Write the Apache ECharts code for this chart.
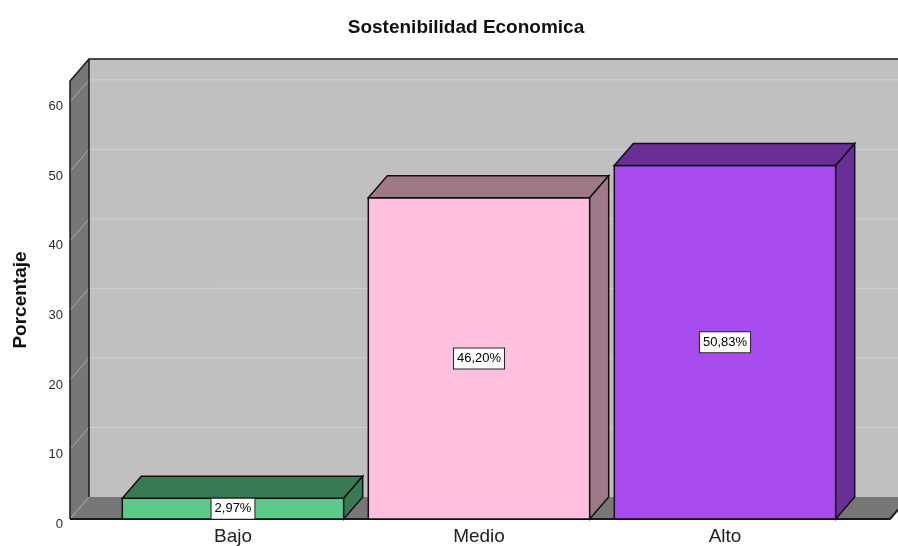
<!DOCTYPE html>
<html>
<head>
<meta charset="utf-8">
<script src="https://cdn.jsdelivr.net/npm/echarts@6/dist/echarts.min.js"></script>
<style>
html,body{margin:0;padding:0;background:#fff;}
#chart{width:898px;height:546px;}
</style>
</head>
<body>
<div id="chart"></div>
<script>
// ---- data ----
const categories = ['Bajo', 'Medio', 'Alto'];
const percentages = [2.97, 46.20, 50.83];
const yTicks = [0, 10, 20, 30, 40, 50, 60];
const yMax = 63;

// ---- styles ----
const FONT = 'Liberation Sans, Arial, Helvetica, sans-serif';
const frontColors = ['#5dca8b', '#ffc0e0', '#a84cf0'];
const darkColors = ['#387a52', '#a07989', '#6a2e97'];
const DX = 19, DY = -22;          // depth offset of the 3D effect
const LEFT_EXT = 40, RIGHT_EXT = 42;

function fmt(v) { return v.toFixed(2).replace('.', ',') + '%'; }

function renderFrame(params, api) {
  const cs = params.coordSys;
  const X0 = cs.x - LEFT_EXT;
  const XR = cs.x + cs.width + RIGHT_EXT;
  const Yb = api.coord([0, 0])[1];
  const Yt = api.coord([0, yMax])[1];
  const children = [];
  children.push({type: 'rect', shape: {x: X0 + DX, y: Yt + DY, width: XR - X0 + 20, height: Yb - Yt},
    style: {fill: '#c0c0c0'}});
  children.push({type: 'polygon', shape: {points: [[X0, Yb], [X0, Yt], [X0 + DX, Yt + DY], [X0 + DX, Yb + DY]]},
    style: {fill: '#777777'}});
  children.push({type: 'polygon', shape: {points: [[X0, Yb], [XR, Yb], [XR + DX, Yb + DY], [X0 + DX, Yb + DY]]},
    style: {fill: '#777777'}});
  yTicks.forEach(function (t) {
    const y = api.coord([0, t])[1];
    if (t > 0) {
      children.push({type: 'line', shape: {x1: X0 + DX, y1: y + DY, x2: XR + DX + 20, y2: y + DY},
        style: {stroke: '#d0d0d0', lineWidth: 1}});
    }
    children.push({type: 'line', shape: {x1: X0, y1: y, x2: X0 + DX, y2: y + DY},
      style: {stroke: '#a8a8a8', lineWidth: 1}});
  });
  children.push({type: 'polyline', shape: {points: [[X0, Yb], [X0, Yt], [X0 + DX, Yt + DY], [XR + DX + 20, Yt + DY]]},
    style: {stroke: '#1a1a1a', lineWidth: 1.5, fill: null}});
  children.push({type: 'line', shape: {x1: X0 + DX, y1: Yt + DY, x2: X0 + DX, y2: Yb + DY},
    style: {stroke: '#1a1a1a', lineWidth: 1.5}});
  children.push({type: 'polyline', shape: {points: [[X0, Yb], [XR, Yb], [XR + DX, Yb + DY]]},
    style: {stroke: '#1a1a1a', lineWidth: 2, fill: null}});
  return {type: 'group', children: children};
}

function renderBar(params, api) {
  const i = api.value(0);
  const v = api.value(1);
  const top = api.coord([i, v]);
  const base = api.coord([i, 0]);
  const band = api.size([1, 0])[0];
  const w = band * 0.9;
  const x0 = top[0] - w / 2, x1 = top[0] + w / 2;
  const yT = top[1], yB = base[1];
  const idx = params.dataIndex;
  const edge = {stroke: '#111', lineWidth: 1.5};
  return {
    type: 'group',
    children: [
      {type: 'rect', shape: {x: x0, y: yT, width: w, height: yB - yT},
        style: Object.assign({fill: frontColors[idx]}, edge)},
      {type: 'polygon', shape: {points: [[x0, yT], [x0 + DX, yT + DY], [x1 + DX, yT + DY], [x1, yT]]},
        style: Object.assign({fill: darkColors[idx]}, edge)},
      {type: 'polygon', shape: {points: [[x1, yT], [x1 + DX, yT + DY], [x1 + DX, yB + DY], [x1, yB]]},
        style: Object.assign({fill: darkColors[idx]}, edge)},
      {type: 'text', x: top[0], y: (yT + yB) / 2,
        style: {text: fmt(v), fill: '#000', fontSize: 13, fontFamily: FONT,
          align: 'center', verticalAlign: 'middle',
          backgroundColor: '#fff', borderColor: '#222', borderWidth: 1, padding: [4, 3, 3, 3]}}
    ]
  };
}

const chart = echarts.init(document.getElementById('chart'), null, {renderer: 'canvas'});
chart.setOption({
  animation: false,
  backgroundColor: '#ffffff',
  title: {
    text: 'Sostenibilidad Economica',
    left: 461, top: 13, textAlign: 'center',
    textStyle: {fontSize: 19, fontWeight: 'bold', color: '#111', fontFamily: FONT}
  },
  grid: {left: 110, right: 50, top: 81, bottom: 27},
  xAxis: {
    type: 'category',
    data: categories,
    axisLine: {show: false},
    axisTick: {show: false},
    axisLabel: {fontSize: 19, color: '#222', fontFamily: FONT, margin: 8}
  },
  yAxis: {
    type: 'value',
    min: 0, max: yMax, interval: 10,
    offset: LEFT_EXT,
    name: 'Porcentaje',
    nameLocation: 'middle',
    nameGap: 40,
    nameTextStyle: {fontSize: 19, fontWeight: 'bold', color: '#111', fontFamily: FONT},
    axisLine: {show: false},
    axisTick: {show: false},
    splitLine: {show: false},
    axisLabel: {fontSize: 13, color: '#2a2a2a', fontFamily: FONT, margin: 7, showMaxLabel: false,
      verticalAlign: 'top', lineHeight: 10}
  },
  series: [
    {type: 'custom', name: 'frame', renderItem: renderFrame, data: [[0, 0]], z: 1, silent: true, clip: false},
    {type: 'custom', name: 'Porcentaje', renderItem: renderBar,
      data: percentages.map(function (p, i) { return [i, p]; }), z: 2, clip: false}
  ]
});
</script>
</body>
</html>
